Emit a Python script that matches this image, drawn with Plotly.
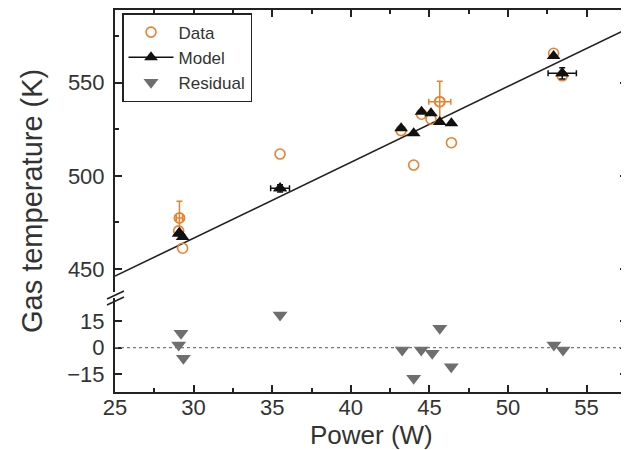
import plotly.graph_objects as go

# ---- data ----
power = [29.1, 29.05, 29.3, 35.5, 43.2, 44.0, 44.5, 45.1, 45.66, 46.4, 52.9, 53.45]
data_T = [477.4, 470.5, 461.2, 511.7, 524.3, 505.8, 533.1, 530.4, 539.8, 517.8, 565.8, 553.7]
model_T = [469.5, 469.0, 467.2, 493.3, 525.6, 522.9, 534.4, 533.6, 528.9, 528.2, 564.3, 555.0]
res_power = [29.2, 29.05, 29.35, 35.5, 43.27, 44.0, 44.48, 45.18, 45.66, 46.39, 52.92, 53.5]
residual = [8.1, 1.5, -6.0, 18.4, -1.3, -17.2, -1.3, -3.2, 10.9, -10.7, 1.5, -1.3]

# points carrying error bars
data_err_power = [29.1, 45.66]
data_err_T = [477.4, 539.8]
data_err_y = [9.0, 11.0]
data_err_x = [0.2, 0.7]
model_err_power = [35.5, 53.45]
model_err_T = [493.3, 555.0]
model_err_x = [0.6, 0.9]
model_err_y = [2.0, 3.0]

fit_x = [25.0, 57.6]
fit_y = [446.2, 579.0]

x_ticks = [25, 30, 35, 40, 45, 50, 55]
y_ticks_top = [450, 500, 550]
y_ticks_bot = [-15, 0, 15]

ORANGE = "#E8822E"
GREY = "#6E6E6E"
FONT = "Liberation Sans, Arial, sans-serif"

fig = go.Figure()

# fit line
fig.add_trace(go.Scatter(x=fit_x, y=fit_y, mode="lines", line=dict(color="#222", width=1.6),
                         showlegend=False, xaxis="x2", yaxis="y", hoverinfo="skip"))
# data
fig.add_trace(go.Scatter(x=power, y=data_T, mode="markers", name="Data",
                         marker=dict(symbol="circle-open", size=10, color=ORANGE, line=dict(width=1.6)),
                         xaxis="x2", yaxis="y"))
fig.add_trace(go.Scatter(x=data_err_power, y=data_err_T, mode="markers", showlegend=False,
                         marker=dict(symbol="circle-open", size=10, color=ORANGE, line=dict(width=1.6)),
                         error_y=dict(type="data", array=data_err_y, color=ORANGE, thickness=1.5, width=3),
                         error_x=dict(type="data", array=data_err_x, color=ORANGE, thickness=1.5, width=3),
                         xaxis="x2", yaxis="y"))
# model
fig.add_trace(go.Scatter(x=power, y=model_T, mode="markers", showlegend=False,
                         marker=dict(symbol="triangle-up", size=12, color="#111"),
                         xaxis="x2", yaxis="y"))
fig.add_trace(go.Scatter(x=model_err_power, y=model_err_T, mode="markers", showlegend=False,
                         marker=dict(symbol="triangle-up", size=12, color="#111"),
                         error_y=dict(type="data", array=model_err_y, color="#111", thickness=1.5, width=3),
                         error_x=dict(type="data", array=model_err_x, color="#111", thickness=1.5, width=3),
                         xaxis="x2", yaxis="y"))
# legend entry for model (line + marker)
fig.add_trace(go.Scatter(x=[None], y=[None], mode="lines+markers", name="Model",
                         line=dict(color="#111", width=1.6),
                         marker=dict(symbol="triangle-up", size=12, color="#111"),
                         xaxis="x2", yaxis="y"))
# residual
fig.add_trace(go.Scatter(x=res_power, y=residual, mode="markers", name="Residual",
                         marker=dict(symbol="triangle-down", size=13, color=GREY),
                         xaxis="x", yaxis="y2"))

axis_common = dict(showline=True, linecolor="#222", linewidth=2, ticks="inside", ticklen=7,
                   tickwidth=1.5, tickcolor="#222", showgrid=False, zeroline=False,
                   automargin=False,
                   tickfont=dict(family=FONT, size=22, color="#333"))

# page body has an 8px margin, so the figure is 8px smaller and margins shifted
fig.update_layout(
    template="none",
    width=621, height=442,
    margin=dict(l=107, r=2, t=2, b=58, autoexpand=False),
    plot_bgcolor="white", paper_bgcolor="white",
    font=dict(family=FONT, color="#333"),
    xaxis=dict(**axis_common, range=[25, 57.57], tickvals=x_ticks, anchor="y2",
               ticklabelstandoff=-5,
               minor=dict(ticks="inside", ticklen=4, tickwidth=1.5, tickcolor="#222", dtick=2.5, tick0=25)),
    xaxis2=dict(**axis_common, range=[25, 57.57], tickvals=x_ticks, anchor="y", side="top",
                matches="x", showticklabels=False,
                minor=dict(ticks="inside", ticklen=4, tickwidth=1.5, tickcolor="#222", dtick=2.5, tick0=25)),
    yaxis=dict(**axis_common, range=[437.7, 589.0], tickvals=y_ticks_top, anchor="x2",
               domain=[0.2618, 1.0], mirror="ticks", ticklabelstandoff=4,
               minor=dict(ticks="inside", ticklen=4, tickwidth=1.5, tickcolor="#222", dtick=25, tick0=450)),
    yaxis2=dict(**axis_common, range=[-24.9, 27.9], tickvals=y_ticks_bot, anchor="x",
                domain=[0.0, 0.2461], mirror="ticks", ticklabelstandoff=4),
    legend=dict(x=0.0137, y=0.992, xanchor="left", yanchor="top",
                bordercolor="#222", borderwidth=1.5, bgcolor="white",
                font=dict(family=FONT, size=17, color="#333"), itemwidth=45,
                tracegroupgap=0, entrywidth=92, entrywidthmode="pixels"),
    showlegend=True,
)

# axis titles
fig.add_annotation(text="Gas temperature (K)", xref="paper", yref="paper", x=-0.162, y=0.5,
                   textangle=-90, showarrow=False, xanchor="center", yanchor="middle",
                   font=dict(family=FONT, size=29, color="#333"))
fig.add_annotation(text="Power (W)", xref="paper", yref="paper", x=0.5, y=-0.1126,
                   showarrow=False, xanchor="center", yanchor="middle",
                   font=dict(family=FONT, size=26, color="#333"))

# dotted zero line in residual panel
fig.add_shape(type="line", xref="x domain", yref="y2", x0=0, x1=1, y0=0, y1=0,
              line=dict(color="#777", width=1.2, dash="dot"))

# axis break marks (positions given in page pixels of the 629x450 view)
def px2paper(px, py):
    return (px - 115) / 512, (392 - py) / 382

for dy in (0, 6):
    x0, y0 = px2paper(107, 299 + dy)
    x1, y1 = px2paper(124, 291 + dy)
    fig.add_shape(type="line", xref="paper", yref="paper", x0=x0, y0=y0, x1=x1, y1=y1,
                  line=dict(color="#222", width=1.5))

fig.write_html("out.html")
